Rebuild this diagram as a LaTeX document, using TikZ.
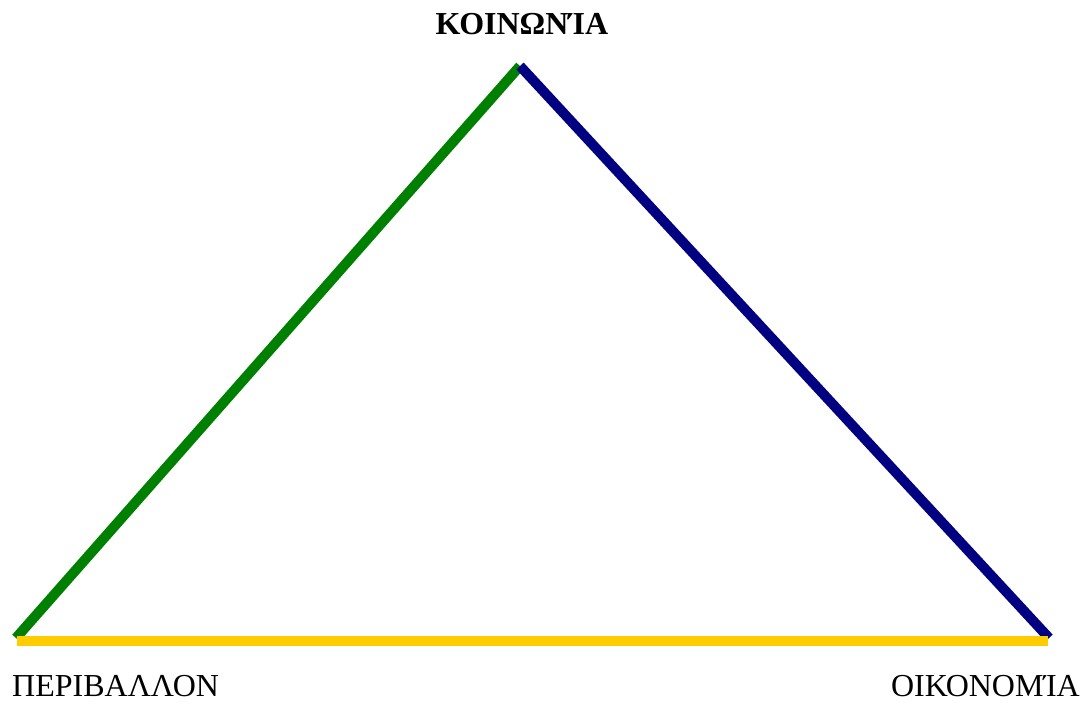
\documentclass[tikz,border=0pt]{standalone}
\usepackage{fontspec}
\setmainfont{Liberation Serif}
\definecolor{sgreen}{RGB}{0,128,0}
\definecolor{snavy}{RGB}{0,0,128}
\definecolor{sgold}{RGB}{255,204,0}
\tikzset{
  side/.style={line width=10pt, line cap=butt},
  lbl/.style={inner sep=0pt, font=\fontsize{32}{38}\selectfont},
}
\begin{document}
\begin{tikzpicture}[x=1pt,y=-1pt]
\useasboundingbox (0,0) rectangle (1091,704);
\coordinate (A) at (520,66);
\coordinate (L) at (16,638);
\coordinate (R) at (1049,638);
\coordinate (YL) at (17,641);
\coordinate (YR) at (1048,641);
\draw[side, sgreen] (L) -- (A);
\draw[side, snavy] (A) -- (R);
\draw[side, sgold] (YL) -- (YR);
\node[lbl, anchor=base, font=\fontsize{32}{38}\selectfont\bfseries] (soc) at (522,34) {ΚΟΙΝΩΝΊΑ};
\node[lbl, anchor=base west] (env) at (12,696) {ΠΕΡΙΒΑΛΛΟΝ};
\node[lbl, anchor=base east] (eco) at (1080,696) {ΟΙΚΟΝΟΜΊΑ};
\end{tikzpicture}
\end{document}
